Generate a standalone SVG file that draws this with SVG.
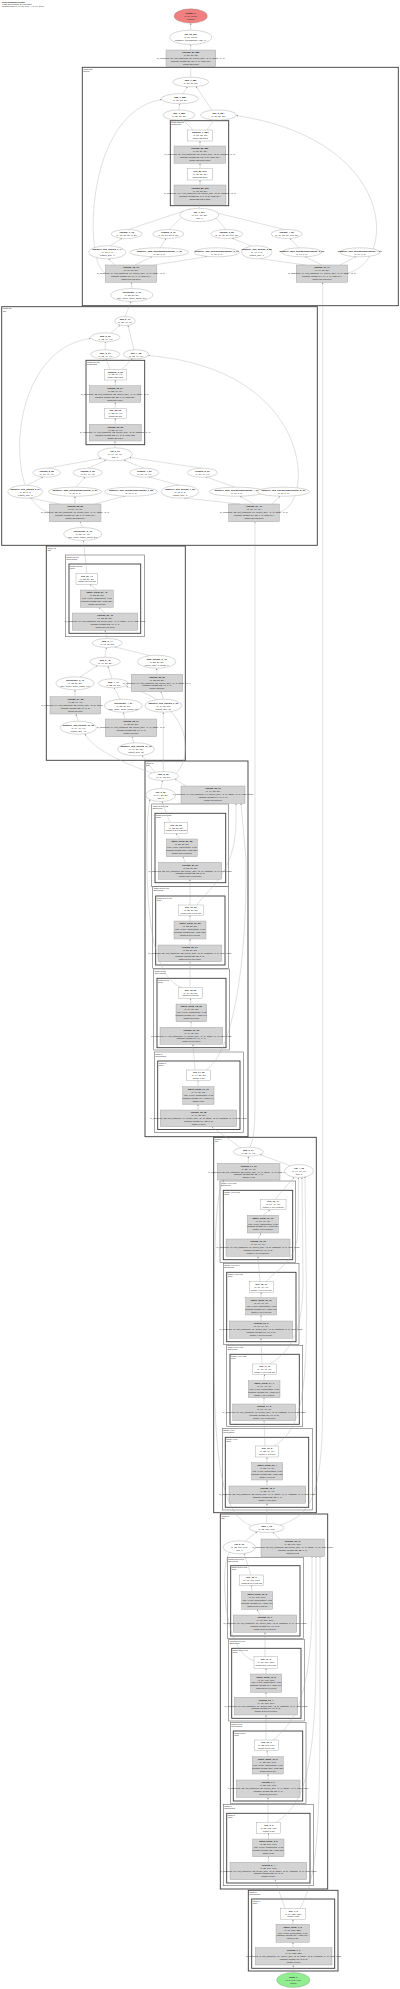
<svg xmlns="http://www.w3.org/2000/svg" width="400" height="1989" viewBox="0 0 400 1989">
<defs>
<marker id="a" viewBox="0 0 10 10" refX="9" refY="5" markerWidth="5" markerHeight="5" orient="auto"><path d="M0,1 L10,5 L0,9z" fill="#888"/></marker>
<style>
text{font-family:"Liberation Sans",Arial,sans-serif;font-size:2.3px;fill:#1a1a1a;text-anchor:middle}
.b{font-weight:bold}
.l{text-anchor:start;font-size:2.1px}
.e{fill:#fff;stroke:#8c8c8c;stroke-width:.35}
.g{fill:#d3d3d3;stroke:#8c8c8c;stroke-width:.35}
.w{fill:#fff;stroke:#8c8c8c;stroke-width:.35}
.c{fill:none;stroke:#3a3a3a;stroke-width:.9}
.c2{fill:none;stroke:#6a6a6a;stroke-width:.6}
.k path{fill:none;stroke:#a6a6a6;stroke-width:.35;marker-end:url(#a)}
</style>
</defs>
<rect width="400" height="1989" fill="#fff"/>
<g id="title"><text class="l" x="2" y="2.8"><tspan class="b">DetectionModel(Graph)</tspan><tspan x="2" dy="2.3">3,157,200 params, 8.9 GFLOPs</tspan><tspan x="2" dy="2.3">Forward pass (1, 3, 640, 640) -&gt; (1, 84, 8400)</tspan></text></g>

<g id="clusters">
<rect class="c" x="82.3" y="67.3" width="316" height="238.4"/><text class="l" x="83.5" y="69.9">model.22<tspan x="83.5" dy="2.2">Detect</tspan></text>
<rect class="c" x="170.3" y="120.7" width="58.4" height="85"/><text class="l" x="171.3" y="123.2">model.22.cv3<tspan x="171.3" dy="2.2">Sequential</tspan></text>
<rect class="c" x="1.7" y="306.7" width="315.6" height="238.6"/><text class="l" x="2.8" y="309.3">model.21<tspan x="2.8" dy="2.2">C2f</tspan></text>
<rect class="c" x="86" y="360.3" width="58.7" height="84.4"/><text class="l" x="87" y="362.8">model.21.cv2<tspan x="87" dy="2.2">Sequential</tspan></text>
<rect class="c" x="46.3" y="546" width="139" height="214.3"/><text class="l" x="47.4" y="548.6">model.15<tspan x="47.4" dy="2.2">C2f</tspan></text>
<rect class="c2" x="65.3" y="555" width="79" height="81.7"/><text class="l" x="66.3" y="557.5">model.15.cv1<tspan x="66.3" dy="2.2">Conv(block)</tspan></text>
<rect class="c" x="69" y="564" width="71.7" height="69.3"/><text class="l" x="70" y="566.5">model.15.cv1<tspan x="70" dy="2.2">Conv</tspan></text>
<rect class="c" x="145" y="761" width="103" height="375.7"/><text class="l" x="146" y="763.6">model.8<tspan x="146" dy="2.2">C2f</tspan></text>
<rect class="c2" x="151.7" y="804" width="76.6" height="82.7"/><text class="l" x="152.7" y="806.5">model.8.m.0.cv2<tspan x="152.7" dy="2.2">Bottleneck</tspan></text>
<rect class="c" x="155" y="813.3" width="70.7" height="69.4"/><text class="l" x="156" y="815.8">model.8.m.0.cv2<tspan x="156" dy="2.2">Conv</tspan></text>
<rect class="c2" x="152.7" y="886.7" width="75.6" height="81.6"/><text class="l" x="153.7" y="889.2">model.8.m.0.cv1<tspan x="153.7" dy="2.2">Bottleneck</tspan></text>
<rect class="c" x="155.7" y="896" width="69.3" height="69"/><text class="l" x="156.7" y="898.5">model.8.m.0.cv1<tspan x="156.7" dy="2.2">Conv</tspan></text>
<rect class="c2" x="153.7" y="969" width="75.6" height="81"/><text class="l" x="154.7" y="971.5">model.8.cv1<tspan x="154.7" dy="2.2">Conv(block)</tspan></text>
<rect class="c" x="157" y="978.3" width="69" height="69.4"/><text class="l" x="158" y="980.8">model.8.cv1<tspan x="158" dy="2.2">Conv</tspan></text>
<rect class="c2" x="154.3" y="1052" width="89" height="80.5"/><text class="l" x="155.3" y="1054.5">model.7<tspan x="155.3" dy="2.2">Conv(block)</tspan></text>
<rect class="c" x="157.7" y="1061" width="82.3" height="68.5"/><text class="l" x="158.7" y="1063.5">model.7<tspan x="158.7" dy="2.2">Conv</tspan></text>
<rect class="c" x="213.7" y="1137.3" width="102.6" height="375.4"/><text class="l" x="214.7" y="1139.9">model.4<tspan x="214.7" dy="2.2">C2f</tspan></text>
<rect class="c2" x="220" y="1181" width="75.7" height="81.3"/><text class="l" x="221" y="1183.5">model.4.m.1.cv2<tspan x="221" dy="2.2">Bottleneck</tspan></text>
<rect class="c" x="223.3" y="1190.3" width="69.4" height="69.4"/><text class="l" x="224.3" y="1192.8">model.4.m.1.cv2<tspan x="224.3" dy="2.2">Conv</tspan></text>
<rect class="c2" x="223.3" y="1263.3" width="75.7" height="81"/><text class="l" x="224.3" y="1265.8">model.4.m.1.cv1<tspan x="224.3" dy="2.2">Bottleneck</tspan></text>
<rect class="c" x="226.7" y="1272.3" width="69.3" height="69.4"/><text class="l" x="227.7" y="1274.8">model.4.m.1.cv1<tspan x="227.7" dy="2.2">Conv</tspan></text>
<rect class="c2" x="226.7" y="1345.7" width="76" height="81"/><text class="l" x="227.7" y="1348.2">model.4.m.0.cv2<tspan x="227.7" dy="2.2">Bottleneck</tspan></text>
<rect class="c" x="230" y="1354.3" width="69.3" height="70"/><text class="l" x="231" y="1356.8">model.4.m.0.cv2<tspan x="231" dy="2.2">Conv</tspan></text>
<rect class="c2" x="222.3" y="1428.3" width="90" height="81.7"/><text class="l" x="223.3" y="1430.8">model.4.cv1<tspan x="223.3" dy="2.2">Conv(block)</tspan></text>
<rect class="c" x="225.3" y="1437.3" width="83.4" height="70"/><text class="l" x="226.3" y="1439.8">model.4.cv1<tspan x="226.3" dy="2.2">Conv</tspan></text>
<rect class="c" x="220.3" y="1514" width="107.4" height="375"/><text class="l" x="221.3" y="1516.6">model.2<tspan x="221.3" dy="2.2">C2f</tspan></text>
<rect class="c2" x="227.3" y="1557.3" width="76" height="81"/><text class="l" x="228.3" y="1559.8">model.2.m.0.cv2<tspan x="228.3" dy="2.2">Bottleneck</tspan></text>
<rect class="c" x="230.7" y="1565.7" width="69.3" height="70.3"/><text class="l" x="231.7" y="1568.2">model.2.m.0.cv2<tspan x="231.7" dy="2.2">Conv</tspan></text>
<rect class="c2" x="228.7" y="1639.3" width="75.6" height="81.7"/><text class="l" x="229.7" y="1641.8">model.2.m.0.cv1<tspan x="229.7" dy="2.2">Bottleneck</tspan></text>
<rect class="c" x="231.7" y="1648.3" width="69.3" height="70"/><text class="l" x="232.7" y="1650.8">model.2.m.0.cv1<tspan x="232.7" dy="2.2">Conv</tspan></text>
<rect class="c2" x="230.3" y="1722.3" width="75.7" height="81"/><text class="l" x="231.3" y="1724.8">model.2.cv1<tspan x="231.3" dy="2.2">Conv(block)</tspan></text>
<rect class="c" x="233.3" y="1731" width="69.4" height="70"/><text class="l" x="234.3" y="1733.5">model.2.cv1<tspan x="234.3" dy="2.2">Conv</tspan></text>
<rect class="c2" x="223.3" y="1804.3" width="90" height="81.4"/><text class="l" x="224.3" y="1806.8">model.1<tspan x="224.3" dy="2.2">Conv(block)</tspan></text>
<rect class="c" x="226.7" y="1813.3" width="83.3" height="69.7"/><text class="l" x="227.7" y="1815.8">model.1<tspan x="227.7" dy="2.2">Conv</tspan></text>
<rect class="c" x="248.3" y="1890.3" width="89.7" height="80.7"/><text class="l" x="249.3" y="1892.9">model.0<tspan x="249.3" dy="2.2">Conv(block)</tspan></text>
<rect class="c" x="251.7" y="1899" width="83" height="69.3"/><text class="l" x="252.7" y="1901.5">model.0<tspan x="252.7" dy="2.2">Conv</tspan></text>
</g>

<g id="connectors" class="k">
<path d="M190.7,50 L190.7,44.8"/>
<path d="M190.7,30.1 L190.7,23.4"/>
<path d="M190.7,77.2 L190.7,66.9"/>
<path d="M183,93.8 L187.5,86.7"/>
<path d="M212,110.2 L196,86.5"/>
<path d="M179,110 L179.7,103.8"/>
<path d="M193,130 L183,119.9"/>
<path d="M207,130 L214,119.9"/>
<path d="M200,146 L200,141.2"/>
<path d="M200,168.3 L200,163.5"/>
<path d="M200,185 L200,180.2"/>
<path d="M199.3,208.3 L199.3,204.5"/>
<path d="M128,229.6 L184,211"/>
<path d="M169,229.6 L190,208.9"/>
<path d="M226,229.5 L209,209.6"/>
<path d="M285,229.6 L215,212.5"/>
<path d="M110,245.9 L122,238.3"/>
<path d="M160,247.9 L166,238.6"/>
<path d="M251,245.9 L232,238.3"/>
<path d="M299,247.9 L290,238.5"/>
<path d="M115,265 L108.5,258.9"/>
<path d="M135,265 L152,256.7"/>
<path d="M154,265 L207,256.6"/>
<path d="M306,265 L260,258.7"/>
<path d="M322,265 L305,256.7"/>
<path d="M340,265 L356,256.6"/>
<path d="M105.3,273 C84,265 84,112 161.6,99.5"/>
<path d="M347.7,273 C397,262 397,140 236.2,115.5"/>
<path d="M131.7,288.5 L131.5,282.5"/>
<path d="M125,316.5 L131,301.6"/>
<path d="M280,1525 C312,1515 322.7,1495 322.7,1400 L322.7,282.5"/>
<path d="M111,333 L120,325.2"/>
<path d="M134,350 L128,325.4"/>
<path d="M105.3,349.8 L105.3,341.9"/>
<path d="M110,369.3 L106,358.9"/>
<path d="M122,369.3 L132.5,358.6"/>
<path d="M115.3,385.7 L115.3,380.2"/>
<path d="M115.3,408.3 L115.3,402.5"/>
<path d="M115.3,424.3 L115.3,418.5"/>
<path d="M115,447.8 L115,441.2"/>
<path d="M47,468.2 L101,458.5"/>
<path d="M88,468.2 L106,460.3"/>
<path d="M144,468.2 L124,460.3"/>
<path d="M202,468.2 L129.5,457.5"/>
<path d="M27,485.2 L43,477"/>
<path d="M76,487.2 L85,477.1"/>
<path d="M179,485.2 L149,477"/>
<path d="M235,487.2 L206,477"/>
<path d="M60,504 L30,498"/>
<path d="M75,504 L75,496.4"/>
<path d="M95,504 L125,496"/>
<path d="M240,504 L184,498"/>
<path d="M254,504 L240,496.4"/>
<path d="M272,504 L280,496.3"/>
<path d="M49.3,512 C4,505 5,350 90.4,338.5"/>
<path d="M279.3,512 C315,505 315,370 148.6,355.5"/>
<path d="M82.7,527.5 L80,521.9"/>
<path d="M250,1147.3 C254,1138 255,1125 255,1100 L255,521.9"/>
<path d="M86.8,573.3 L83.5,540.7"/>
<path d="M96.8,590 L90,584.5"/>
<path d="M105,613 L99,607.5"/>
<path d="M107.3,638.5 L105,630.5"/>
<path d="M105,657.2 L106.5,647.6"/>
<path d="M150,655.6 L115,647"/>
<path d="M80,677 L97,665.8"/>
<path d="M112,678.8 L108,666.3"/>
<path d="M157,674.3 L156.7,668.4"/>
<path d="M75,696.7 L75,690"/>
<path d="M120,699.2 L114,687.9"/>
<path d="M163.3,699.2 L161,691.9"/>
<path d="M78.3,721.2 L76,714.2"/>
<path d="M125,719 L123.3,712.4"/>
<path d="M134,742.8 L132,736.9"/>
<path d="M152,773 C120,762 92,748 85,734"/>
<path d="M163.3,771.5 L163.3,712.4"/>
<path d="M176,773.5 C193,757 193,705 126.5,686.5"/>
<path d="M155,772.5 L142,755.3"/>
<path d="M161,788.5 L162.5,780.7"/>
<path d="M186,786 L175,779.2"/>
<path d="M170,822.3 L162,801.7"/>
<path d="M180,839 L176,833.5"/>
<path d="M185,862.3 L183,856.9"/>
<path d="M190,905 L190,879.5"/>
<path d="M197,905 C206,890 236,875 236,820 L236,803.5"/>
<path d="M190,921 L190,915.9"/>
<path d="M190,945 L190,939.2"/>
<path d="M190,987.3 L190,961.9"/>
<path d="M182,987.3 C150,978 146,900 147,840 C147.5,815 149,804 150,799.5"/>
<path d="M191,1004 L190.5,998.5"/>
<path d="M191,1027.3 L191,1021.9"/>
<path d="M195,1070 L193,1044.5"/>
<path d="M206,1070 C236,1050 247,950 246,860 L241,803.5"/>
<path d="M198,1086.7 L198,1080.9"/>
<path d="M198,1110 L198,1104.5"/>
<path d="M241,1148 L212,1126.9"/>
<path d="M248.3,1163.3 L248.3,1156.4"/>
<path d="M290,1165.6 L260,1154.6"/>
<path d="M275,1199.3 L294,1177.3"/>
<path d="M263,1215.3 L270,1209.9"/>
<path d="M258,1239 L261,1233.2"/>
<path d="M260,1281.7 L258,1256.5"/>
<path d="M266,1281.7 C278,1268 297,1262 298,1230 L298.5,1177.6"/>
<path d="M261,1297.7 L261,1292.5"/>
<path d="M261,1321 L261,1315.2"/>
<path d="M262,1364 L261,1338.5"/>
<path d="M270,1364 C292,1350 303,1330 303,1280 L302,1177.4"/>
<path d="M264,1380.7 L264.5,1374.5"/>
<path d="M264,1404 L264,1397.9"/>
<path d="M265,1446 L264,1420.9"/>
<path d="M274,1446 C300,1430 307,1400 306.5,1300 L305,1176.5"/>
<path d="M267,1462.7 L267,1457.2"/>
<path d="M267,1486 L267,1480.2"/>
<path d="M266.7,1523.5 L267,1503.5"/>
<path d="M251,1525.5 C226,1516 214,1480 214,1350 C214,1235 216,1190 224,1180.2"/>
<path d="M245,1541.2 L257,1531.9"/>
<path d="M280,1539 L273,1532.3"/>
<path d="M251,1575 L244,1553.6"/>
<path d="M252,1591.7 L251.5,1585.9"/>
<path d="M260,1615 L257,1609.5"/>
<path d="M265,1656.7 L265,1632.5"/>
<path d="M254,1661 C228,1652 223,1600 225,1570 C226,1560 228,1553 231,1551.5"/>
<path d="M266,1674 L266,1668.5"/>
<path d="M266,1697.3 L266,1692.5"/>
<path d="M266,1740 L266,1715.2"/>
<path d="M273,1740 C292,1725 312,1700 312,1600 L312,1556.9"/>
<path d="M268,1756.7 L267,1750.9"/>
<path d="M268,1780 L268,1774.2"/>
<path d="M268,1822.7 L268,1797.5"/>
<path d="M276,1822.7 C301,1805 316,1780 316,1650 L316,1556.9"/>
<path d="M268.5,1839 L268.5,1833.5"/>
<path d="M268.5,1862.3 L268.5,1856.9"/>
<path d="M285,1908.3 L275,1879.9"/>
<path d="M300,1908.3 C316,1880 320,1840 320,1700 L320,1556.9"/>
<path d="M293,1924.3 L293,1919.5"/>
<path d="M293,1947.7 L293,1942.5"/>
<path d="M293.3,1972.5 L293.3,1965.2"/>
</g>

<g id="n_output"><ellipse cx="190.7" cy="16" rx="16.7" ry="7.2" fill="#f08080" stroke="#8c8c8c" stroke-width=".35"/><text x="190.7" y="14"><tspan class="b">output_0</tspan><tspan x="190.7" dy="2.9">(1, 84, 8400)</tspan><tspan x="190.7" dy="2.9">(output)</tspan></text></g>
<g id="n_cat_out"><ellipse class="e" cx="190.7" cy="37.3" rx="21" ry="7.2"/><text x="190.7" y="35.3"><tspan class="b">cat_23_290</tspan><tspan x="190.7" dy="2.9">(1, 84, 8400)</tspan><tspan x="190.7" dy="2.9">cat(dbox, cls.sigmoid(), dim=1)</tspan></text></g>
<g id="n_conv_289"><rect class="g" x="166" y="50" width="49.7" height="16.7"/><text x="190.85" y="53.3"><tspan class="b">conv2d_87_289</tspan><tspan x="190.85" dy="2.9">(1, 80, 80, 80)</tspan><tspan x="190.85" dy="2.9">in_channels=80, out_channels=80, kernel_size=(1, 1), stride=(1, 1)</tspan><tspan x="190.85" dy="2.9">params: weight (80, 80, 1, 1), bias (80,)</tspan><tspan x="190.85" dy="2.9">model.22.cv3.2</tspan></text></g>
<g id="n1"><ellipse class="e" cx="190.7" cy="82" rx="18" ry="4.8"/><text x="190.7" y="81.4"><tspan class="b">add_1_287</tspan><tspan x="190.7" dy="2.9">(1, 80, 80, 80)</tspan></text></g>
<g id="n2"><ellipse class="e" cx="180" cy="98.7" rx="18.5" ry="5"/><text x="180" y="98.1"><tspan class="b">add_1_285</tspan><tspan x="180" dy="2.9">(1, 80, 80, 80)</tspan></text></g>
<g id="n3"><ellipse class="e" cx="179" cy="115" rx="16" ry="5"/><text x="179" y="114.4"><tspan class="b">mul_1_283</tspan><tspan x="179" dy="2.9">(1, 80, 80, 80)</tspan></text></g>
<g id="n4"><ellipse class="e" cx="218.3" cy="115" rx="18" ry="5"/><text x="218.3" y="114.4"><tspan class="b">mul_2_284</tspan><tspan x="218.3" dy="2.9">(1, 80, 80, 80)</tspan></text></g>
<g id="n5"><rect class="w" x="187.7" y="130" width="25" height="11"/><text x="200.2" y="133.3"><tspan class="b">sigmoid_1_281</tspan><tspan x="200.2" dy="2.9">(1, 80, 80, 80)</tspan><tspan x="200.2" dy="2.9">model.22.act.2</tspan></text></g>
<g id="n6"><rect class="g" x="174" y="146" width="51.7" height="17.3"/><text x="199.85" y="149.4"><tspan class="b">conv2d_86_280</tspan><tspan x="199.85" dy="2.9">(1, 80, 80, 80)</tspan><tspan x="199.85" dy="2.9">in_channels=80, out_channels=80, kernel_size=(3, 3), padding=(1, 1)</tspan><tspan x="199.85" dy="2.9">params: weight (80, 80, 3, 3), bias (80,)</tspan><tspan x="199.85" dy="2.9">model.22.cv3.1.conv</tspan></text></g>
<g id="n7"><rect class="w" x="187.7" y="168.3" width="24.6" height="11.7"/><text x="200" y="171.7"><tspan class="b">silu_80_279</tspan><tspan x="200" dy="2.9">(1, 80, 80, 80)</tspan><tspan x="200" dy="2.9">model.22.act.1</tspan></text></g>
<g id="n8"><rect class="g" x="174" y="185" width="52" height="19.3"/><text x="200" y="188.6"><tspan class="b">conv2d_85_278</tspan><tspan x="200" dy="2.9">(1, 80, 80, 80)</tspan><tspan x="200" dy="2.9">in_channels=144, out_channels=80, kernel_size=(3, 3), padding=(1, 1)</tspan><tspan x="200" dy="2.9">params: weight (80, 144, 3, 3), bias (80,)</tspan><tspan x="200" dy="2.9">model.22.cv3.0.conv</tspan></text></g>
<g id="n9"><ellipse class="e" cx="199.3" cy="215" rx="19.5" ry="6.7"/><text x="199.3" y="213"><tspan class="b">cat_1_277</tspan><tspan x="199.3" dy="2.9">(1, 144, 80, 80)</tspan><tspan x="199.3" dy="2.9">dim=1</tspan></text></g>
<g id="n10"><ellipse class="e" cx="126.7" cy="234" rx="15.5" ry="4.5"/><text x="126.7" y="233.4"><tspan class="b">expand_1_75</tspan><tspan x="126.7" dy="2.9">(1, 16, 80, 80, 8, 80)</tspan></text></g>
<g id="n11"><ellipse class="e" cx="168.3" cy="234" rx="15.5" ry="4.5"/><text x="168.3" y="233.4"><tspan class="b">expand_2_76</tspan><tspan x="168.3" dy="2.9">(1, 16, 80, 80, 8, 80)</tspan></text></g>
<g id="n12"><ellipse class="e" cx="226.7" cy="234" rx="16" ry="4.5"/><text x="226.7" y="233.4"><tspan class="b">expand_3_80</tspan><tspan x="226.7" dy="2.9">(1, 64, 80, 80, 160, 80)</tspan></text></g>
<g id="n13"><ellipse class="e" cx="286.7" cy="234" rx="15.5" ry="4.5"/><text x="286.7" y="233.4"><tspan class="b">expand_4_81</tspan><tspan x="286.7" dy="2.9">(1, 64, 80, 80, 160, 80)</tspan></text></g>
<g id="n14"><ellipse class="e" cx="107.3" cy="252.3" rx="18.7" ry="6.5"/><text x="107.3" y="250.3"><tspan class="b">adaptive_avg_pool2d_1_74</tspan><tspan x="107.3" dy="2.9">(1, 16, 1, 1)</tspan><tspan x="107.3" dy="2.9">output_size=1</tspan></text></g>
<g id="n15"><ellipse class="e" cx="159.3" cy="252.3" rx="29.3" ry="4.5"/><text x="159.3" y="251.7"><tspan class="b">adaptive_max_pool2d(Embedding)_1_78</tspan><tspan x="159.3" dy="2.9">(1, 16, 1, 1)</tspan></text></g>
<g id="n16"><ellipse class="e" cx="216.7" cy="252.3" rx="22.5" ry="4.5"/><text x="216.7" y="251.7"><tspan class="b">adaptive_avg_pool2d(Embedding)_2_79</tspan><tspan x="216.7" dy="2.9">(1, 16, 1, 1)</tspan></text></g>
<g id="n17"><ellipse class="e" cx="256.7" cy="252.3" rx="15.3" ry="6.5"/><text x="256.7" y="250.3"><tspan class="b">adaptive_avg_pool2d_3_82</tspan><tspan x="256.7" dy="2.9">(1, 64, 1, 1)</tspan><tspan x="256.7" dy="2.9">output_size=1</tspan></text></g>
<g id="n18"><ellipse class="e" cx="301.7" cy="252.3" rx="20" ry="4.5"/><text x="301.7" y="251.7"><tspan class="b">adaptive_max_pool2d(Embedding)_2_83</tspan><tspan x="301.7" dy="2.9">(1, 64, 1, 1)</tspan></text></g>
<g id="n19"><ellipse class="e" cx="360" cy="252.3" rx="20" ry="4.5"/><text x="360" y="251.7"><tspan class="b">adaptive_avg_pool2d(Embedding)_4_84</tspan><tspan x="360" dy="2.9">(1, 64, 1, 1)</tspan></text></g>
<g id="n20"><rect class="g" x="105.3" y="265" width="51.4" height="17.3"/><text x="131" y="268.4"><tspan class="b">conv2d_18_73</tspan><tspan x="131" dy="2.9">(1, 16, 80, 80)</tspan><tspan x="131" dy="2.9">in_channels=64, out_channels=16, kernel_size=(1, 1), stride=(1, 1)</tspan><tspan x="131" dy="2.9">params: weight (16, 64, 1, 1), bias (16,)</tspan><tspan x="131" dy="2.9">model.15.cv2.conv</tspan></text></g>
<g id="n21"><rect class="g" x="296.3" y="265" width="51.4" height="17.3"/><text x="322" y="268.4"><tspan class="b">conv2d_19_77</tspan><tspan x="322" dy="2.9">(1, 64, 80, 80)</tspan><tspan x="322" dy="2.9">in_channels=64, out_channels=64, kernel_size=(1, 1), stride=(1, 1)</tspan><tspan x="322" dy="2.9">params: weight (64, 64, 1, 1), bias (64,)</tspan><tspan x="322" dy="2.9">model.15.cv3.conv</tspan></text></g>
<g id="n22"><ellipse class="e" cx="131.7" cy="295" rx="21" ry="6.5"/><text x="131.7" y="293"><tspan class="b">interpolate_1_72</tspan><tspan x="131.7" dy="2.9">(1, 32, 80, 80)</tspan><tspan x="131.7" dy="2.9">size=None, scale_factor=2.0</tspan></text></g>

<g id="n23"><ellipse class="e" cx="125" cy="321" rx="10.3" ry="4.5"/><text x="125" y="320.4"><tspan class="b">add_2_71</tspan><tspan x="125" dy="2.9">(1, 32, 40, 40)</tspan></text></g>
<g id="n24"><ellipse class="e" cx="105.3" cy="337.3" rx="14.7" ry="4.5"/><text x="105.3" y="336.7"><tspan class="b">add_2_69</tspan><tspan x="105.3" dy="2.9">(1, 32, 40, 40)</tspan></text></g>
<g id="n25"><ellipse class="e" cx="105.3" cy="354.3" rx="14.7" ry="4.5"/><text x="105.3" y="353.7"><tspan class="b">mul_3_67</tspan><tspan x="105.3" dy="2.9">(1, 32, 40, 40)</tspan></text></g>
<g id="n26"><ellipse class="e" cx="136" cy="354.3" rx="12.7" ry="4.5"/><text x="136" y="353.7"><tspan class="b">mul_4_68</tspan><tspan x="136" dy="2.9">(1, 32, 40, 40)</tspan></text></g>
<g id="n27"><rect class="w" x="104.3" y="369.3" width="22" height="10.7"/><text x="115.3" y="372.5"><tspan class="b">sigmoid_2_65</tspan><tspan x="115.3" dy="2.9">(1, 32, 40, 40)</tspan><tspan x="115.3" dy="2.9">model.21.cv2.2</tspan></text></g>
<g id="n28"><rect class="g" x="89.3" y="385.7" width="51.4" height="16.6"/><text x="115" y="389"><tspan class="b">conv2d_30_64</tspan><tspan x="115" dy="2.9">(1, 32, 40, 40)</tspan><tspan x="115" dy="2.9">in_channels=32, out_channels=32, kernel_size=(1, 1), stride=(1, 1)</tspan><tspan x="115" dy="2.9">params: weight (32, 32, 1, 1), bias (32,)</tspan><tspan x="115" dy="2.9">model.21.cv2.1</tspan></text></g>
<g id="n29"><rect class="w" x="104.3" y="408.3" width="22" height="10"/><text x="115.3" y="411.3"><tspan class="b">silu_22_63</tspan><tspan x="115.3" dy="2.8">(1, 32, 40, 40)</tspan><tspan x="115.3" dy="2.8">model.21.act</tspan></text></g>
<g id="n30"><rect class="g" x="89.3" y="424.3" width="52" height="16.7"/><text x="115.3" y="427.6"><tspan class="b">conv2d_29_62</tspan><tspan x="115.3" dy="2.9">(1, 32, 40, 40)</tspan><tspan x="115.3" dy="2.9">in_channels=64, out_channels=32, kernel_size=(3, 3), padding=(1, 1)</tspan><tspan x="115.3" dy="2.9">params: weight (32, 64, 3, 3), bias (32,)</tspan><tspan x="115.3" dy="2.9">model.21.cv2.0</tspan></text></g>
<g id="n31"><ellipse class="e" cx="115" cy="454.3" rx="17.3" ry="6.5"/><text x="115" y="452.3"><tspan class="b">cat_2_61</tspan><tspan x="115" dy="2.9">(1, 64, 40, 40)</tspan><tspan x="115" dy="2.9">dim=1</tspan></text></g>
<g id="n32"><ellipse class="e" cx="46.7" cy="472.7" rx="13.8" ry="4.5"/><text x="46.7" y="472.1"><tspan class="b">expand_5_55</tspan><tspan x="46.7" dy="2.9">(1, 16, 40, 40)</tspan></text></g>
<g id="n33"><ellipse class="e" cx="87.7" cy="472.7" rx="14.5" ry="4.5"/><text x="87.7" y="472.1"><tspan class="b">expand_6_56</tspan><tspan x="87.7" dy="2.9">(1, 16, 40, 40)</tspan></text></g>
<g id="n34"><ellipse class="e" cx="144.3" cy="472.7" rx="14.5" ry="4.5"/><text x="144.3" y="472.1"><tspan class="b">expand_7_59</tspan><tspan x="144.3" dy="2.9">(1, 16, 40, 40)</tspan></text></g>
<g id="n35"><ellipse class="e" cx="202.3" cy="472.7" rx="15" ry="4.5"/><text x="202.3" y="472.1"><tspan class="b">expand_8_60</tspan><tspan x="202.3" dy="2.9">(1, 16, 40, 40)</tspan></text></g>
<g id="n36"><ellipse class="e" cx="25.3" cy="491.7" rx="17.5" ry="6.5"/><text x="25.3" y="489.7"><tspan class="b">adaptive_avg_pool2d_5_54</tspan><tspan x="25.3" dy="2.9">(1, 16, 1, 1)</tspan><tspan x="25.3" dy="2.9">output_size=1</tspan></text></g>
<g id="n37"><ellipse class="e" cx="75" cy="491.7" rx="26.7" ry="4.5"/><text x="75" y="491.1"><tspan class="b">adaptive_max_pool2d(Embedding)_3_57</tspan><tspan x="75" dy="2.9">(1, 16, 1, 1)</tspan></text></g>
<g id="n38"><ellipse class="e" cx="131" cy="491.7" rx="26.5" ry="4.5"/><text x="131" y="491.1"><tspan class="b">adaptive_avg_pool2d(Embedding)_6_58</tspan><tspan x="131" dy="2.9">(1, 16, 1, 1)</tspan></text></g>
<g id="n39"><ellipse class="e" cx="180" cy="491.7" rx="18.8" ry="6.5"/><text x="180" y="489.7"><tspan class="b">adaptive_avg_pool2d_7_52</tspan><tspan x="180" dy="2.9">(1, 16, 1, 1)</tspan><tspan x="180" dy="2.9">output_size=1</tspan></text></g>
<g id="n40"><ellipse class="e" cx="236.7" cy="491.7" rx="27.5" ry="4.5"/><text x="236.7" y="491.1"><tspan class="b">adaptive_max_pool2d(Embedding)_4_53</tspan><tspan x="236.7" dy="2.9">(1, 16, 1, 1)</tspan></text></g>
<g id="n41"><ellipse class="e" cx="283.3" cy="491.7" rx="26.3" ry="4.5"/><text x="283.3" y="491.1"><tspan class="b">adaptive_avg_pool2d(Embedding)_8_51</tspan><tspan x="283.3" dy="2.9">(1, 16, 1, 1)</tspan></text></g>
<g id="n42"><rect class="g" x="49.3" y="504" width="51.7" height="17.7"/><text x="75.15" y="507.4"><tspan class="b">conv2d_28_50</tspan><tspan x="75.15" dy="2.9">(1, 16, 40, 40)</tspan><tspan x="75.15" dy="2.9">in_channels=32, out_channels=16, kernel_size=(1, 1), stride=(1, 1)</tspan><tspan x="75.15" dy="2.9">params: weight (16, 32, 1, 1), bias (16,)</tspan><tspan x="75.15" dy="2.9">model.18.cv2.conv</tspan></text></g>
<g id="n43"><rect class="g" x="228.7" y="504" width="50.6" height="17.7"/><text x="254" y="507.4"><tspan class="b">conv2d_27_49</tspan><tspan x="254" dy="2.9">(1, 16, 40, 40)</tspan><tspan x="254" dy="2.9">in_channels=32, out_channels=16, kernel_size=(1, 1), stride=(1, 1)</tspan><tspan x="254" dy="2.9">params: weight (16, 32, 1, 1), bias (16,)</tspan><tspan x="254" dy="2.9">model.18.cv3.conv</tspan></text></g>
<g id="n44"><ellipse class="e" cx="82.7" cy="534" rx="19.2" ry="6.5"/><text x="82.7" y="532"><tspan class="b">interpolate_2_48</tspan><tspan x="82.7" dy="2.9">(1, 32, 40, 40)</tspan><tspan x="82.7" dy="2.9">size=None, scale_factor=2.0</tspan></text></g>

<g id="n45"><rect class="w" x="76" y="573.3" width="21.7" height="11"/><text x="86.85" y="576.6"><tspan class="b">silu_21_47</tspan><tspan x="86.85" dy="2.9">(1, 32, 20, 20)</tspan><tspan x="86.85" dy="2.9">model.15.cv1.act</tspan></text></g>
<g id="n46"><rect class="g" x="80.3" y="590" width="33" height="17.3"/><text x="96.8" y="593.4"><tspan class="b">batch_norm_21_46</tspan><tspan x="96.8" dy="2.9">(1, 32, 20, 20)</tspan><tspan x="96.8" dy="2.9">eps=0.001, momentum=0.03</tspan><tspan x="96.8" dy="2.9">params: weight (32,), bias (32,)</tspan><tspan x="96.8" dy="2.9">model.15.cv1.bn</tspan></text></g>
<g id="n47"><rect class="g" x="72.3" y="613" width="65.4" height="17.3"/><text x="105" y="616.4"><tspan class="b">conv2d_26_45</tspan><tspan x="105" dy="2.9">(1, 32, 20, 20)</tspan><tspan x="105" dy="2.9">in_channels=96, out_channels=32, kernel_size=(1, 1), stride=(1, 1), bias=False</tspan><tspan x="105" dy="2.9">params: weight (32, 96, 1, 1)</tspan><tspan x="105" dy="2.9">model.15.cv1.conv</tspan></text></g>
<g id="n48"><ellipse class="e" cx="107.3" cy="643" rx="15" ry="4.5"/><text x="107.3" y="642.4"><tspan class="b">add_3_44</tspan><tspan x="107.3" dy="2.9">(1, 96, 20, 20)</tspan></text></g>
<g id="n49"><ellipse class="e" cx="105" cy="661.7" rx="15.3" ry="4.5"/><text x="105" y="661.1"><tspan class="b">add_3_42</tspan><tspan x="105" dy="2.9">(1, 96, 20, 20)</tspan></text></g>
<g id="n50"><ellipse class="e" cx="156.7" cy="661.7" rx="19.2" ry="6.5"/><text x="156.7" y="659.7"><tspan class="b">max_pool2d_3_43</tspan><tspan x="156.7" dy="2.9">(1, 32, 20, 20)</tspan><tspan x="156.7" dy="2.9">kernel_size=5, stride=1</tspan></text></g>
<g id="n51"><ellipse class="e" cx="75" cy="683.3" rx="19.2" ry="6.5"/><text x="75" y="681.3"><tspan class="b">interpolate_3_40</tspan><tspan x="75" dy="2.9">(1, 32, 20, 20)</tspan><tspan x="75" dy="2.9">size=None, scale_factor=0.5</tspan></text></g>
<g id="n52"><ellipse class="e" cx="113.3" cy="683.3" rx="15" ry="4.5"/><text x="113.3" y="682.7"><tspan class="b">add_4_41</tspan><tspan x="113.3" dy="2.9">(1, 32, 20, 20)</tspan></text></g>
<g id="n53"><rect class="g" x="131.3" y="674.3" width="51.4" height="17.4"/><text x="157" y="677.7"><tspan class="b">conv2d_25_39</tspan><tspan x="157" dy="2.9">(1, 32, 20, 20)</tspan><tspan x="157" dy="2.9">in_channels=64, out_channels=32, kernel_size=(1, 1), stride=(1, 1)</tspan><tspan x="157" dy="2.9">params: weight (32, 64, 1, 1)</tspan><tspan x="157" dy="2.9">model.12.conv</tspan></text></g>
<g id="n54"><rect class="g" x="50" y="696.7" width="50.7" height="17.3"/><text x="75.35" y="700.1"><tspan class="b">conv2d_24_38</tspan><tspan x="75.35" dy="2.9">(1, 32, 40, 40)</tspan><tspan x="75.35" dy="2.9">in_channels=64, out_channels=32, kernel_size=(3, 3), stride=(2, 2)</tspan><tspan x="75.35" dy="2.9">params: weight (32, 64, 3, 3)</tspan><tspan x="75.35" dy="2.9">model.11.conv</tspan></text></g>
<g id="n55"><ellipse class="e" cx="123.3" cy="705.7" rx="19" ry="6.5"/><text x="123.3" y="703.7"><tspan class="b">interpolate_4_37</tspan><tspan x="123.3" dy="2.9">(1, 32, 20, 20)</tspan><tspan x="123.3" dy="2.9">size=None, scale_factor=0.5</tspan></text></g>
<g id="n56"><ellipse class="e" cx="163.3" cy="705.7" rx="18.5" ry="6.5"/><text x="163.3" y="703.7"><tspan class="b">adaptive_avg_pool2d_9_36</tspan><tspan x="163.3" dy="2.9">(1, 64, 20, 20)</tspan><tspan x="163.3" dy="2.9">output_size=20</tspan></text></g>
<g id="n57"><ellipse class="e" cx="78.3" cy="727.7" rx="18.3" ry="6.5"/><text x="78.3" y="725.7"><tspan class="b">adaptive_avg_pool2d_10_35</tspan><tspan x="78.3" dy="2.9">(1, 64, 40, 40)</tspan><tspan x="78.3" dy="2.9">output_size=40</tspan></text></g>
<g id="n58"><rect class="g" x="105.3" y="719" width="51.4" height="17.7"/><text x="131" y="722.4"><tspan class="b">conv2d_23_34</tspan><tspan x="131" dy="2.9">(1, 32, 20, 20)</tspan><tspan x="131" dy="2.9">in_channels=64, out_channels=32, kernel_size=(1, 1), stride=(1, 1)</tspan><tspan x="131" dy="2.9">params: weight (32, 64, 1, 1)</tspan><tspan x="131" dy="2.9">model.10.conv</tspan></text></g>
<g id="n59"><ellipse class="e" cx="136" cy="749.3" rx="18.5" ry="6.5"/><text x="136" y="747.3"><tspan class="b">adaptive_avg_pool2d_11_33</tspan><tspan x="136" dy="2.9">(1, 64, 20, 20)</tspan><tspan x="136" dy="2.9">output_size=20</tspan></text></g>

<g id="n60"><ellipse class="e" cx="163.3" cy="776" rx="15.3" ry="4.5"/><text x="163.3" y="775.4"><tspan class="b">add_5_32</tspan><tspan x="163.3" dy="2.9">(1, 64, 20, 20)</tspan></text></g>
<g id="n61"><ellipse class="e" cx="160.7" cy="795" rx="15" ry="6.5"/><text x="160.7" y="793"><tspan class="b">cat_3_30</tspan><tspan x="160.7" dy="2.9">(1, 64, 20, 20)</tspan><tspan x="160.7" dy="2.9">dim=1</tspan></text></g>
<g id="n62"><rect class="g" x="181" y="786" width="64" height="17.3"/><text x="213" y="789.4"><tspan class="b">conv2d_22_31</tspan><tspan x="213" dy="2.9">(1, 64, 20, 20)</tspan><tspan x="213" dy="2.9">in_channels=64, out_channels=64, kernel_size=(1, 1), stride=(1, 1), bias=False</tspan><tspan x="213" dy="2.9">params: weight (64, 64, 1, 1)</tspan><tspan x="213" dy="2.9">model.8.cv2.conv</tspan></text></g>
<g id="n63"><rect class="w" x="164.3" y="822.3" width="23.4" height="11"/><text x="176" y="825.6"><tspan class="b">silu_20_29</tspan><tspan x="176" dy="2.9">(1, 32, 20, 20)</tspan><tspan x="176" dy="2.9">model.8.m.0.cv2.act</tspan></text></g>
<g id="n64"><rect class="g" x="166.3" y="839" width="31" height="17.7"/><text x="181.8" y="842.4"><tspan class="b">batch_norm_20_28</tspan><tspan x="181.8" dy="2.9">(1, 32, 20, 20)</tspan><tspan x="181.8" dy="2.9">eps=0.001, momentum=0.03</tspan><tspan x="181.8" dy="2.9">params: weight (32,), bias (32,)</tspan><tspan x="181.8" dy="2.9">model.8.m.0.cv2.bn</tspan></text></g>
<g id="n65"><rect class="g" x="158.7" y="862.3" width="63" height="17"/><text x="190.2" y="865.7"><tspan class="b">conv2d_21_27</tspan><tspan x="190.2" dy="2.9">(1, 32, 20, 20)</tspan><tspan x="190.2" dy="2.9">in_channels=32, out_channels=32, kernel_size=(3, 3), padding=(1, 1), bias=False</tspan><tspan x="190.2" dy="2.9">params: weight (32, 32, 3, 3)</tspan><tspan x="190.2" dy="2.9">model.8.m.0.cv2.conv</tspan></text></g>
<g id="n66"><rect class="w" x="178.3" y="905" width="25" height="10.7"/><text x="190.8" y="908.2"><tspan class="b">silu_19_26</tspan><tspan x="190.8" dy="2.9">(1, 32, 20, 20)</tspan><tspan x="190.8" dy="2.9">model.8.m.0.cv1.act</tspan></text></g>
<g id="n67"><rect class="g" x="174" y="921" width="32" height="18"/><text x="190" y="924.4"><tspan class="b">batch_norm_19_25</tspan><tspan x="190" dy="2.9">(1, 32, 20, 20)</tspan><tspan x="190" dy="2.9">eps=0.001, momentum=0.03</tspan><tspan x="190" dy="2.9">params: weight (32,), bias (32,)</tspan><tspan x="190" dy="2.9">model.8.m.0.cv1.bn</tspan></text></g>
<g id="n68"><rect class="g" x="158" y="945" width="63.7" height="16.7"/><text x="189.85" y="948.4"><tspan class="b">conv2d_20_24</tspan><tspan x="189.85" dy="2.9">(1, 32, 20, 20)</tspan><tspan x="189.85" dy="2.9">in_channels=32, out_channels=32, kernel_size=(3, 3), padding=(1, 1), bias=False</tspan><tspan x="189.85" dy="2.9">params: weight (32, 32, 3, 3)</tspan><tspan x="189.85" dy="2.9">model.8.m.0.cv1.conv</tspan></text></g>
<g id="n69"><rect class="w" x="178.3" y="987.3" width="24.4" height="11"/><text x="190.5" y="990.6"><tspan class="b">silu_18_23</tspan><tspan x="190.5" dy="2.9">(1, 64, 20, 20)</tspan><tspan x="190.5" dy="2.9">model.8.cv1.act</tspan></text></g>
<g id="n70"><rect class="g" x="176" y="1004" width="30.7" height="17.7"/><text x="191.35" y="1007.4"><tspan class="b">batch_norm_18_22</tspan><tspan x="191.35" dy="2.9">(1, 64, 20, 20)</tspan><tspan x="191.35" dy="2.9">eps=0.001, momentum=0.03</tspan><tspan x="191.35" dy="2.9">params: weight (64,), bias (64,)</tspan><tspan x="191.35" dy="2.9">model.8.cv1.bn</tspan></text></g>
<g id="n71"><rect class="g" x="160" y="1027.3" width="62.7" height="17"/><text x="191.35" y="1030.7"><tspan class="b">conv2d_19_21</tspan><tspan x="191.35" dy="2.9">(1, 64, 20, 20)</tspan><tspan x="191.35" dy="2.9">in_channels=64, out_channels=64, kernel_size=(1, 1), stride=(1, 1), bias=False</tspan><tspan x="191.35" dy="2.9">params: weight (64, 64, 1, 1)</tspan><tspan x="191.35" dy="2.9">model.8.cv1.conv</tspan></text></g>
<g id="n72"><rect class="w" x="186.7" y="1070" width="24" height="10.7"/><text x="198.7" y="1073.2"><tspan class="b">silu_17_20</tspan><tspan x="198.7" dy="2.9">(1, 64, 20, 20)</tspan><tspan x="198.7" dy="2.9">model.7.act</tspan></text></g>
<g id="n73"><rect class="g" x="182.7" y="1086.7" width="31.3" height="17.6"/><text x="198.35" y="1090.1"><tspan class="b">batch_norm_17_19</tspan><tspan x="198.35" dy="2.9">(1, 64, 20, 20)</tspan><tspan x="198.35" dy="2.9">eps=0.001, momentum=0.03</tspan><tspan x="198.35" dy="2.9">params: weight (64,), bias (64,)</tspan><tspan x="198.35" dy="2.9">model.7.bn</tspan></text></g>
<g id="n74"><rect class="g" x="160.3" y="1110" width="76.4" height="16.7"/><text x="198.5" y="1113.4"><tspan class="b">conv2d_18_18</tspan><tspan x="198.5" dy="2.9">(1, 64, 20, 20)</tspan><tspan x="198.5" dy="2.9">in_channels=32, out_channels=64, kernel_size=(3, 3), stride=(2, 2), padding=(1, 1), bias=False</tspan><tspan x="198.5" dy="2.9">params: weight (64, 32, 3, 3)</tspan><tspan x="198.5" dy="2.9">model.7.conv</tspan></text></g>

<g id="n75"><ellipse class="e" cx="248.3" cy="1151.7" rx="15" ry="4.5"/><text x="248.3" y="1151.1"><tspan class="b">add_6_17</tspan><tspan x="248.3" dy="2.9">(1, 32, 40, 40)</tspan></text></g>
<g id="n76"><rect class="g" x="217.3" y="1163.3" width="62.7" height="16.7"/><text x="248.65" y="1166.7"><tspan class="b">conv2d_17_16</tspan><tspan x="248.65" dy="2.9">(1, 32, 40, 40)</tspan><tspan x="248.65" dy="2.9">in_channels=32, out_channels=32, kernel_size=(1, 1), stride=(1, 1), bias=False</tspan><tspan x="248.65" dy="2.9">params: weight (32, 32, 1, 1)</tspan><tspan x="248.65" dy="2.9">model.4.cv2</tspan></text></g>
<g id="n77"><ellipse class="e" cx="299" cy="1171" rx="14.5" ry="6.5"/><text x="299" y="1169"><tspan class="b">cat_4_15</tspan><tspan x="299" dy="2.9">(1, 64, 40, 40)</tspan><tspan x="299" dy="2.9">dim=1</tspan></text></g>
<g id="n78"><rect class="w" x="260.3" y="1199.3" width="25.7" height="10.4"/><text x="273.15" y="1202.4"><tspan class="b">silu_16_14</tspan><tspan x="273.15" dy="2.8">(1, 16, 40, 40)</tspan><tspan x="273.15" dy="2.8">model.4.m.1.cv2.act</tspan></text></g>
<g id="n79"><rect class="g" x="247.3" y="1215.3" width="31" height="17.7"/><text x="262.8" y="1218.7"><tspan class="b">batch_norm_16_13</tspan><tspan x="262.8" dy="2.9">(1, 16, 40, 40)</tspan><tspan x="262.8" dy="2.9">eps=0.001, momentum=0.03</tspan><tspan x="262.8" dy="2.9">params: weight (16,), bias (16,)</tspan><tspan x="262.8" dy="2.9">model.4.m.1.cv2.bn</tspan></text></g>
<g id="n80"><rect class="g" x="226" y="1239" width="64" height="17.3"/><text x="258" y="1242.4"><tspan class="b">conv2d_16_12</tspan><tspan x="258" dy="2.9">(1, 16, 40, 40)</tspan><tspan x="258" dy="2.9">in_channels=16, out_channels=16, kernel_size=(3, 3), padding=(1, 1), bias=False</tspan><tspan x="258" dy="2.9">params: weight (16, 16, 3, 3)</tspan><tspan x="258" dy="2.9">model.4.m.1.cv2.conv</tspan></text></g>
<g id="n81"><rect class="w" x="249.3" y="1281.7" width="24" height="10.6"/><text x="261.3" y="1284.9"><tspan class="b">silu_15_11</tspan><tspan x="261.3" dy="2.8">(1, 16, 40, 40)</tspan><tspan x="261.3" dy="2.8">model.4.m.1.cv1.act</tspan></text></g>
<g id="n82"><rect class="g" x="245.7" y="1297.7" width="31" height="17.3"/><text x="261.2" y="1301.1"><tspan class="b">batch_norm_15_10</tspan><tspan x="261.2" dy="2.9">(1, 16, 40, 40)</tspan><tspan x="261.2" dy="2.9">eps=0.001, momentum=0.03</tspan><tspan x="261.2" dy="2.9">params: weight (16,), bias (16,)</tspan><tspan x="261.2" dy="2.9">model.4.m.1.cv1.bn</tspan></text></g>
<g id="n83"><rect class="g" x="229.3" y="1321" width="63.4" height="17.3"/><text x="261" y="1324.4"><tspan class="b">conv2d_15_9</tspan><tspan x="261" dy="2.9">(1, 16, 40, 40)</tspan><tspan x="261" dy="2.9">in_channels=16, out_channels=16, kernel_size=(3, 3), padding=(1, 1), bias=False</tspan><tspan x="261" dy="2.9">params: weight (16, 16, 3, 3)</tspan><tspan x="261" dy="2.9">model.4.m.1.cv1.conv</tspan></text></g>
<g id="n84"><rect class="w" x="252.3" y="1364" width="24.4" height="10.3"/><text x="264.5" y="1367.1"><tspan class="b">silu_14_8</tspan><tspan x="264.5" dy="2.8">(1, 16, 40, 40)</tspan><tspan x="264.5" dy="2.8">model.4.m.0.cv2.act</tspan></text></g>
<g id="n85"><rect class="g" x="248.3" y="1380.7" width="31.7" height="17"/><text x="264.15" y="1384"><tspan class="b">batch_norm_14_7</tspan><tspan x="264.15" dy="2.9">(1, 16, 40, 40)</tspan><tspan x="264.15" dy="2.9">eps=0.001, momentum=0.03</tspan><tspan x="264.15" dy="2.9">params: weight (16,), bias (16,)</tspan><tspan x="264.15" dy="2.9">model.4.m.0.cv2.bn</tspan></text></g>
<g id="n86"><rect class="g" x="232.7" y="1404" width="63" height="16.7"/><text x="264.2" y="1407.4"><tspan class="b">conv2d_14_6</tspan><tspan x="264.2" dy="2.9">(1, 16, 40, 40)</tspan><tspan x="264.2" dy="2.9">in_channels=16, out_channels=16, kernel_size=(3, 3), padding=(1, 1), bias=False</tspan><tspan x="264.2" dy="2.9">params: weight (16, 16, 3, 3)</tspan><tspan x="264.2" dy="2.9">model.4.m.0.cv2.conv</tspan></text></g>
<g id="n87"><rect class="w" x="255.3" y="1446" width="23.4" height="11"/><text x="267" y="1449.3"><tspan class="b">silu_13_5</tspan><tspan x="267" dy="2.9">(1, 32, 40, 40)</tspan><tspan x="267" dy="2.9">model.4.cv1.act</tspan></text></g>
<g id="n88"><rect class="g" x="251.7" y="1462.7" width="31" height="17.3"/><text x="267.2" y="1466.1"><tspan class="b">batch_norm_13_4</tspan><tspan x="267.2" dy="2.9">(1, 32, 40, 40)</tspan><tspan x="267.2" dy="2.9">eps=0.001, momentum=0.03</tspan><tspan x="267.2" dy="2.9">params: weight (32,), bias (32,)</tspan><tspan x="267.2" dy="2.9">model.4.cv1.bn</tspan></text></g>
<g id="n89"><rect class="g" x="229" y="1486" width="76.7" height="17.3"/><text x="267.35" y="1489.4"><tspan class="b">conv2d_13_3</tspan><tspan x="267.35" dy="2.9">(1, 32, 40, 40)</tspan><tspan x="267.35" dy="2.9">in_channels=32, out_channels=32, kernel_size=(1, 1), stride=(1, 1), padding=(0, 0), bias=False</tspan><tspan x="267.35" dy="2.9">params: weight (32, 32, 1, 1)</tspan><tspan x="267.35" dy="2.9">model.4.cv1.conv</tspan></text></g>

<g id="n90"><ellipse class="e" cx="266.7" cy="1528" rx="17.7" ry="4.5"/><text x="266.7" y="1527.4"><tspan class="b">add_7_12</tspan><tspan x="266.7" dy="2.9">(1, 32, 160, 160)</tspan></text></g>
<g id="n91"><ellipse class="e" cx="239.3" cy="1547.3" rx="16.2" ry="6.5"/><text x="239.3" y="1545.3"><tspan class="b">cat_5_10</tspan><tspan x="239.3" dy="2.9">(1, 32, 160, 160)</tspan><tspan x="239.3" dy="2.9">dim=1</tspan></text></g>
<g id="n92"><rect class="g" x="261" y="1539" width="63.3" height="17.7"/><text x="292.65" y="1542.4"><tspan class="b">conv2d_12_11</tspan><tspan x="292.65" dy="2.9">(1, 32, 160, 160)</tspan><tspan x="292.65" dy="2.9">in_channels=32, out_channels=32, kernel_size=(1, 1), stride=(1, 1), bias=False</tspan><tspan x="292.65" dy="2.9">params: weight (32, 32, 1, 1)</tspan><tspan x="292.65" dy="2.9">model.2.cv2</tspan></text></g>
<g id="n93"><rect class="w" x="239.3" y="1575" width="24.4" height="10.7"/><text x="251.5" y="1578.2"><tspan class="b">silu_12_9</tspan><tspan x="251.5" dy="2.9">(1, 16, 160, 160)</tspan><tspan x="251.5" dy="2.9">model.2.m.0.cv2.act</tspan></text></g>
<g id="n94"><rect class="g" x="241.7" y="1591.7" width="31" height="17.6"/><text x="257.2" y="1595.1"><tspan class="b">batch_norm_12_8</tspan><tspan x="257.2" dy="2.9">(1, 16, 160, 160)</tspan><tspan x="257.2" dy="2.9">eps=0.001, momentum=0.03</tspan><tspan x="257.2" dy="2.9">params: weight (16,), bias (16,)</tspan><tspan x="257.2" dy="2.9">model.2.m.0.cv2.bn</tspan></text></g>
<g id="n95"><rect class="g" x="233.3" y="1615" width="63.4" height="17.3"/><text x="265" y="1618.4"><tspan class="b">conv2d_11_7</tspan><tspan x="265" dy="2.9">(1, 16, 160, 160)</tspan><tspan x="265" dy="2.9">in_channels=16, out_channels=16, kernel_size=(3, 3), padding=(1, 1), bias=False</tspan><tspan x="265" dy="2.9">params: weight (16, 16, 3, 3)</tspan><tspan x="265" dy="2.9">model.2.m.0.cv2.conv</tspan></text></g>
<g id="n96"><rect class="w" x="254" y="1656.7" width="23.7" height="11.6"/><text x="265.85" y="1660.2"><tspan class="b">silu_11_6</tspan><tspan x="265.85" dy="2.9">(1, 16, 160, 160)</tspan><tspan x="265.85" dy="2.9">model.2.m.0.cv1.act</tspan></text></g>
<g id="n97"><rect class="g" x="250.7" y="1674" width="31" height="18.3"/><text x="266.2" y="1677.6"><tspan class="b">batch_norm_11_5</tspan><tspan x="266.2" dy="2.9">(1, 16, 160, 160)</tspan><tspan x="266.2" dy="2.9">eps=0.001, momentum=0.03</tspan><tspan x="266.2" dy="2.9">params: weight (16,), bias (16,)</tspan><tspan x="266.2" dy="2.9">model.2.m.0.cv1.bn</tspan></text></g>
<g id="n98"><rect class="g" x="234.3" y="1697.3" width="63.4" height="17.7"/><text x="266" y="1700.7"><tspan class="b">conv2d_10_4</tspan><tspan x="266" dy="2.9">(1, 16, 160, 160)</tspan><tspan x="266" dy="2.9">in_channels=16, out_channels=16, kernel_size=(3, 3), padding=(1, 1), bias=False</tspan><tspan x="266" dy="2.9">params: weight (16, 16, 3, 3)</tspan><tspan x="266" dy="2.9">model.2.m.0.cv1.conv</tspan></text></g>
<g id="n99"><rect class="w" x="254.3" y="1740" width="24" height="10.7"/><text x="266.3" y="1743.2"><tspan class="b">silu_10_3</tspan><tspan x="266.3" dy="2.9">(1, 32, 160, 160)</tspan><tspan x="266.3" dy="2.9">model.2.cv1.act</tspan></text></g>
<g id="n100"><rect class="g" x="252.3" y="1756.7" width="31" height="17.3"/><text x="267.8" y="1760.1"><tspan class="b">batch_norm_10_2</tspan><tspan x="267.8" dy="2.9">(1, 32, 160, 160)</tspan><tspan x="267.8" dy="2.9">eps=0.001, momentum=0.03</tspan><tspan x="267.8" dy="2.9">params: weight (32,), bias (32,)</tspan><tspan x="267.8" dy="2.9">model.2.cv1.bn</tspan></text></g>
<g id="n101"><rect class="g" x="236.3" y="1780" width="63.7" height="17.3"/><text x="268.15" y="1783.4"><tspan class="b">conv2d_9_1</tspan><tspan x="268.15" dy="2.9">(1, 32, 160, 160)</tspan><tspan x="268.15" dy="2.9">in_channels=32, out_channels=32, kernel_size=(1, 1), stride=(1, 1), bias=False</tspan><tspan x="268.15" dy="2.9">params: weight (32, 32, 1, 1)</tspan><tspan x="268.15" dy="2.9">model.2.cv1.conv</tspan></text></g>
<g id="n102"><rect class="w" x="256.7" y="1822.7" width="24" height="10.6"/><text x="268.7" y="1825.9"><tspan class="b">silu_2_6</tspan><tspan x="268.7" dy="2.8">(1, 32, 160, 160)</tspan><tspan x="268.7" dy="2.8">model.1.act</tspan></text></g>
<g id="n103"><rect class="g" x="252.7" y="1839" width="31.3" height="17.7"/><text x="268.35" y="1842.4"><tspan class="b">batch_norm_2_5</tspan><tspan x="268.35" dy="2.9">(1, 32, 160, 160)</tspan><tspan x="268.35" dy="2.9">eps=0.001, momentum=0.03</tspan><tspan x="268.35" dy="2.9">params: weight (32,), bias (32,)</tspan><tspan x="268.35" dy="2.9">model.1.bn</tspan></text></g>
<g id="n104"><rect class="g" x="230" y="1862.3" width="76.7" height="17.4"/><text x="268.35" y="1865.7"><tspan class="b">conv2d_2_4</tspan><tspan x="268.35" dy="2.9">(1, 32, 160, 160)</tspan><tspan x="268.35" dy="2.9">in_channels=16, out_channels=32, kernel_size=(3, 3), stride=(2, 2), padding=(1, 1), bias=False</tspan><tspan x="268.35" dy="2.9">params: weight (32, 16, 3, 3)</tspan><tspan x="268.35" dy="2.9">model.1.conv</tspan></text></g>

<g id="n105"><rect class="w" x="280.7" y="1908.3" width="25" height="11"/><text x="293.2" y="1911.6"><tspan class="b">silu_1_3</tspan><tspan x="293.2" dy="2.9">(1, 16, 320, 320)</tspan><tspan x="293.2" dy="2.9">model.0.act</tspan></text></g>
<g id="n106"><rect class="g" x="276" y="1924.3" width="33.3" height="18"/><text x="292.65" y="1927.7"><tspan class="b">batch_norm_1_2</tspan><tspan x="292.65" dy="2.9">(1, 16, 320, 320)</tspan><tspan x="292.65" dy="2.9">eps=0.001, momentum=0.03</tspan><tspan x="292.65" dy="2.9">params: weight (16,), bias (16,)</tspan><tspan x="292.65" dy="2.9">model.0.bn</tspan></text></g>
<g id="n107"><rect class="g" x="255.3" y="1947.7" width="76.7" height="17.3"/><text x="293.65" y="1951.1"><tspan class="b">conv2d_1_1</tspan><tspan x="293.65" dy="2.9">(1, 16, 320, 320)</tspan><tspan x="293.65" dy="2.9">in_channels=3, out_channels=16, kernel_size=(3, 3), stride=(2, 2), padding=(1, 1), bias=False</tspan><tspan x="293.65" dy="2.9">params: weight (16, 3, 3, 3)</tspan><tspan x="293.65" dy="2.9">model.0.conv</tspan></text></g>
<g id="n_input"><ellipse cx="293.3" cy="1980" rx="16.7" ry="7.5" fill="#90ee90" stroke="#8c8c8c" stroke-width=".35"/><text x="293.3" y="1978"><tspan class="b">input_1</tspan><tspan x="293.3" dy="2.9">(1, 3, 640, 640)</tspan><tspan x="293.3" dy="2.9">(input)</tspan></text></g>
</svg>
